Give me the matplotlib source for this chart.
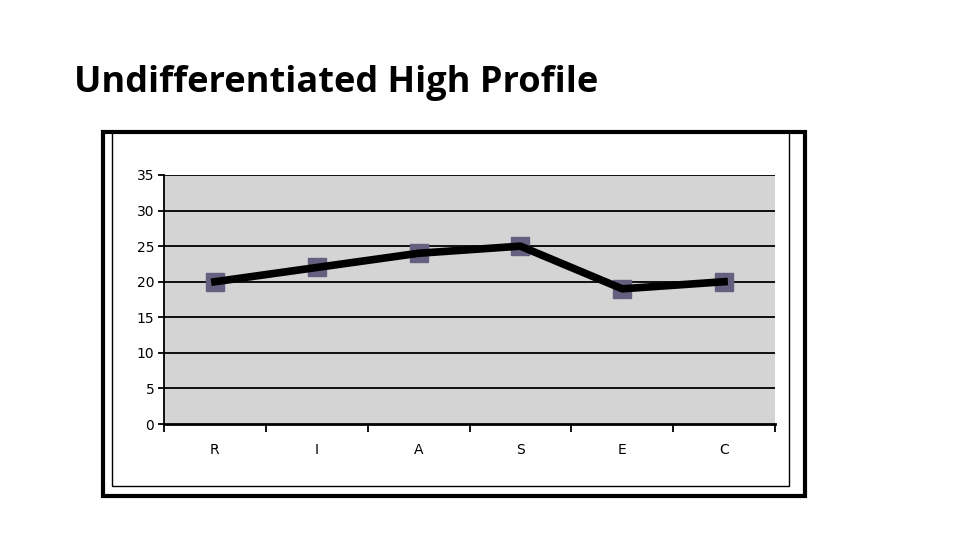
import matplotlib
matplotlib.use("Agg")
import matplotlib.pyplot as plt
from matplotlib.patches import Rectangle

categories = ["R", "I", "A", "S", "E", "C"]
scores = [20, 22, 24, 25, 19, 20]
y_ticks = [0, 5, 10, 15, 20, 25, 30, 35]

W, H = 960, 540
fig = plt.figure(figsize=(9.6, 5.4), dpi=100)


def fx(px):
    return px / W


def fy(py):
    return 1 - py / H


# title
fig.text(fx(74), fy(92), "Undifferentiated High Profile", fontsize=26,
         fontweight="bold", family="Open Sans", va="baseline", ha="left")

# outer thick frame and inner thin frame
fig.patches.append(Rectangle((fx(103), fy(496)), fx(805) - fx(103), fy(132) - fy(496),
                             transform=fig.transFigure, fill=False, lw=3, ec="black"))
fig.patches.append(Rectangle((fx(112), fy(486)), fx(789) - fx(112), fy(132) - fy(486),
                             transform=fig.transFigure, fill=False, lw=1, ec="black"))

ax = fig.add_axes([fx(164), fy(424), fx(775) - fx(164), fy(175) - fy(424)])
ax.set_facecolor("#d4d4d4")
x = list(range(len(categories)))
ax.plot(x, scores, color="black", lw=5.5, zorder=3)
ax.plot(x, scores, ls="none", marker="s", ms=13, color="#646080", zorder=2)

ax.set_xlim(-0.5, len(categories) - 0.5)
ax.set_ylim(0, 35)
ax.set_yticks(y_ticks)
ax.set_yticklabels([str(v) for v in y_ticks], fontsize=10, family="DejaVu Sans")
for v in y_ticks[1:]:
    ax.axhline(v, color="black", lw=1.3, zorder=1)

ax.set_xticks([i + 0.5 for i in range(-1, len(categories))])
ax.set_xticklabels([])
ax.tick_params(axis="x", length=6, width=1.3, direction="out")
ax.tick_params(axis="y", length=4, width=1.3, direction="out", pad=3)
for i, c in enumerate(categories):
    ax.text(i, -3.6, c, ha="center", va="center", fontsize=10)

for side in ["top", "right"]:
    ax.spines[side].set_visible(False)
ax.spines["left"].set_linewidth(1.3)
ax.spines["bottom"].set_linewidth(2)

fig.savefig("out.png", dpi=100)
